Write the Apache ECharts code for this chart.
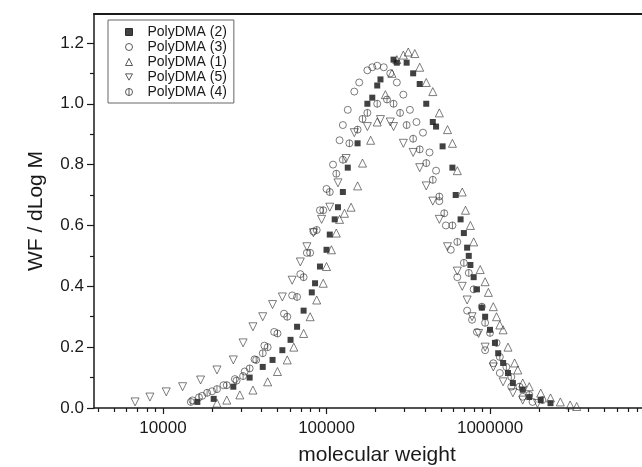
<!DOCTYPE html>
<html>
<head>
<meta charset="utf-8">
<script src="https://cdn.jsdelivr.net/npm/echarts@6/dist/echarts.min.js"></script>
<style>
html,body{margin:0;padding:0;background:#fff;}
#chart{width:642px;height:467px;}
</style>
</head>
<body>
<div id="chart"></div>
<script>
// ---- tick labels ----
const xMajorTicks = [10000, 100000, 1000000];
const xMinorTicks = [4000, 5000, 6000, 7000, 8000, 9000,
  20000, 30000, 40000, 50000, 60000, 70000, 80000, 90000,
  200000, 300000, 400000, 500000, 600000, 700000, 800000, 900000,
  2000000, 3000000, 4000000, 5000000, 6000000, 7000000, 8000000];
const yMajorTicks = [0, 0.2, 0.4, 0.6, 0.8, 1.0, 1.2];
const yMinorTicks = [0.1, 0.3, 0.5, 0.7, 0.9, 1.1];

// ---- series names (legend order) ----
const seriesNames = ['PolyDMA (2)', 'PolyDMA (3)', 'PolyDMA (1)', 'PolyDMA (5)', 'PolyDMA (4)'];

// ---- PolyDMA (2) : filled squares ----
const mw_2 = [16220, 20420, 26920, 33880, 40740, 46770, 53700, 60260, 66070, 72440, 81280, 85110, 91200, 100000, 104700, 112200, 117500, 125900, 134900, 154900, 177800, 190500, 204200, 213800, 257000, 269200, 309000, 338800, 371500, 407400, 446700, 467700, 512900, 588800, 616600, 660700, 691800, 724400, 741300, 758600, 794300, 831800, 891300, 933300, 1000000, 1072000, 1122000, 1202000, 1288000, 1380000, 1585000, 1738000, 2042000, 2344000];
const wf_2 = [0.02, 0.03, 0.07, 0.10, 0.135, 0.158, 0.19, 0.224, 0.267, 0.32, 0.38, 0.41, 0.465, 0.52, 0.57, 0.62, 0.66, 0.71, 0.79, 0.87, 1.0, 1.02, 1.06, 1.08, 1.145, 1.135, 1.135, 1.10, 1.065, 1.0, 0.94, 0.925, 0.86, 0.79, 0.70, 0.62, 0.575, 0.527, 0.50, 0.47, 0.43, 0.39, 0.33, 0.30, 0.257, 0.214, 0.18, 0.148, 0.115, 0.082, 0.06, 0.036, 0.026, 0.016];

// ---- PolyDMA (3) : open circles ----
const mw_3 = [15140, 17380, 19950, 23440, 27540, 31620, 36310, 41690, 47860, 54950, 61660, 69180, 75860, 83180, 91200, 100000, 109600, 120200, 125900, 134900, 147900, 158500, 177800, 190500, 204200, 223900, 245500, 269200, 295100, 323600, 354800, 389000, 426600, 467700, 489800, 537000, 575400, 631000, 724400, 776200, 831800, 933300, 1047000, 1148000, 1349000, 1585000, 1820000];
const wf_3 = [0.025, 0.04, 0.055, 0.075, 0.095, 0.12, 0.16, 0.205, 0.25, 0.31, 0.37, 0.44, 0.51, 0.58, 0.65, 0.72, 0.80, 0.88, 0.93, 0.98, 1.04, 1.07, 1.11, 1.12, 1.125, 1.12, 1.10, 1.07, 1.03, 0.98, 0.94, 0.905, 0.84, 0.78, 0.68, 0.60, 0.52, 0.43, 0.32, 0.29, 0.25, 0.19, 0.147, 0.115, 0.07, 0.037, 0.02];

// ---- PolyDMA (1) : open up-triangles ----
const mw_1 = [21380, 24550, 29510, 35480, 43650, 50120, 57540, 63100, 72440, 79430, 87100, 95500, 100000, 107200, 114800, 120200, 128800, 141300, 154900, 166000, 186200, 204200, 229100, 251200, 269200, 295100, 316200, 346700, 371500, 407400, 446700, 489800, 549500, 588800, 631000, 676100, 707900, 758600, 794300, 871000, 933300, 977200, 1047000, 1096000, 1148000, 1202000, 1288000, 1413000, 1479000, 1585000, 1738000, 2042000, 2344000, 2692000, 3090000, 3388000];
const wf_1 = [0.016, 0.026, 0.043, 0.059, 0.086, 0.12, 0.158, 0.20, 0.245, 0.30, 0.355, 0.41, 0.465, 0.52, 0.575, 0.62, 0.64, 0.66, 0.73, 0.805, 0.88, 0.94, 1.03, 1.10, 1.145, 1.16, 1.17, 1.165, 1.12, 1.07, 1.04, 0.97, 0.915, 0.87, 0.78, 0.71, 0.65, 0.60, 0.546, 0.455, 0.415, 0.38, 0.333, 0.30, 0.273, 0.257, 0.20, 0.148, 0.125, 0.082, 0.07, 0.049, 0.033, 0.02, 0.01, 0.005];

// ---- PolyDMA (5) : open down-triangles ----
const mw_5 = [6750, 8320, 10470, 13180, 16980, 21380, 26920, 30900, 35480, 40740, 46770, 53700, 61660, 69180, 75860, 83180, 93330, 104700, 117500, 131800, 147900, 177800, 213800, 245500, 257000, 295100, 338800, 371500, 407400, 446700, 489800, 549500, 631000, 676100, 724400, 776200, 851100, 933300, 1047000, 1202000, 1380000, 1585000, 1950000];
const wf_5 = [0.02, 0.036, 0.053, 0.07, 0.092, 0.125, 0.158, 0.214, 0.267, 0.30, 0.34, 0.365, 0.42, 0.48, 0.53, 0.576, 0.62, 0.66, 0.74, 0.82, 0.905, 0.925, 0.948, 0.94, 0.925, 0.87, 0.84, 0.79, 0.73, 0.68, 0.62, 0.53, 0.45, 0.40, 0.355, 0.30, 0.245, 0.20, 0.135, 0.086, 0.05, 0.026, 0.015];

// ---- PolyDMA (4) : crossed circles ----
const mw_4 = [14790, 16600, 18620, 21380, 24550, 28180, 30900, 33880, 37150, 40740, 43650, 50120, 57540, 66070, 72440, 79430, 87100, 95500, 104700, 114800, 125900, 138000, 154900, 166000, 177800, 204200, 234400, 257000, 281800, 309000, 338800, 371500, 407400, 446700, 489800, 524800, 588800, 631000, 691800, 741300, 794300, 891300, 933300, 1000000, 1096000, 1148000, 1259000, 1349000, 1514000, 1738000, 2089000];
const wf_4 = [0.02, 0.035, 0.05, 0.062, 0.075, 0.09, 0.105, 0.13, 0.158, 0.18, 0.20, 0.245, 0.30, 0.365, 0.43, 0.51, 0.585, 0.65, 0.71, 0.77, 0.816, 0.87, 0.915, 0.95, 0.97, 1.0, 1.014, 1.0, 0.97, 0.93, 0.885, 0.85, 0.805, 0.75, 0.695, 0.64, 0.60, 0.546, 0.477, 0.444, 0.39, 0.333, 0.28, 0.247, 0.214, 0.168, 0.135, 0.102, 0.07, 0.043, 0.026];

const zip = (xs, ys) => xs.map((x, i) => [x, ys[i]]);
const FONT = '"Liberation Sans", Arial, Helvetica, sans-serif';
const INK = '#1a1a1a';
const crossedCircle = 'path://M10,0 A10,10 0 1,1 10,20 A10,10 0 1,1 10,0 Z M10,0 L10,20';
const downTriangle = 'path://M0,0 L10,0 L5,9 Z';

const X_MIN = 3785, X_MAX = 8500000;
const Y_MIN = 0, Y_MAX = 1.295;

const openStyle = { color: 'rgba(255,255,255,0)', borderColor: '#333', borderWidth: 0.8 };

const chart = echarts.init(document.getElementById('chart'), null, { renderer: 'canvas' });
chart.setOption({
  animation: false,
  backgroundColor: '#fff',
  textStyle: { fontFamily: FONT },
  grid: { left: 94, right: 0, top: 14, bottom: 59, containLabel: false, outerBoundsMode: 'none' },
  legend: {
    data: seriesNames.map(n => ({ name: n, itemStyle: { borderWidth: 1 } })),
    orient: 'vertical',
    left: 108, top: 20,
    padding: [5, 7, 4, 17],
    itemWidth: 7, itemHeight: 7, itemGap: 1,
    symbolKeepAspect: true,
    borderColor: '#666', borderWidth: 1,
    textStyle: { fontFamily: FONT, fontSize: 14, color: INK, lineHeight: 14, padding: [0, 0, 0, 10] }
  },
  xAxis: [
    {
      type: 'log', min: X_MIN, max: X_MAX, position: 'bottom',
      name: 'molecular weight', nameLocation: 'middle', nameGap: 37,
      nameTextStyle: { fontFamily: FONT, fontSize: 21, color: INK, padding: [0, 0, 0, 18] },
      axisLine: { show: true, lineStyle: { color: INK, width: 1.5 } },
      axisTick: { show: true, length: 6, customValues: xMajorTicks, lineStyle: { color: INK, width: 1.2 } },
      axisLabel: { show: true, customValues: xMajorTicks, margin: 12, fontFamily: FONT, fontSize: 17, color: INK,
        formatter: v => String(Math.round(v)) },
      splitLine: { show: false }, minorTick: { show: false }
    },
    {
      type: 'log', min: X_MIN, max: X_MAX, position: 'bottom',
      axisLine: { show: false },
      axisTick: { show: true, length: 4, customValues: xMinorTicks, lineStyle: { color: INK, width: 1.2 } },
      axisLabel: { show: false }, splitLine: { show: false }
    },
    {
      type: 'log', min: X_MIN, max: X_MAX, position: 'top',
      axisLine: { show: true, lineStyle: { color: INK, width: 2 } },
      axisTick: { show: false }, axisLabel: { show: false }, splitLine: { show: false }
    }
  ],
  yAxis: [
    {
      type: 'value', min: Y_MIN, max: Y_MAX, position: 'left',
      name: 'WF / dLog M', nameLocation: 'middle', nameGap: 47, nameRotate: 90,
      nameTextStyle: { fontFamily: FONT, fontSize: 21, color: INK },
      axisLine: { show: true, lineStyle: { color: INK, width: 1.5 } },
      axisTick: { show: true, length: 7, customValues: yMajorTicks, lineStyle: { color: INK, width: 1.2 } },
      axisLabel: { show: true, customValues: yMajorTicks, margin: 10, fontFamily: FONT, fontSize: 17, color: INK,
        formatter: v => v.toFixed(1) },
      splitLine: { show: false }
    },
    {
      type: 'value', min: Y_MIN, max: Y_MAX, position: 'left',
      axisLine: { show: false },
      axisTick: { show: true, length: 4, customValues: yMinorTicks, lineStyle: { color: INK, width: 1.2 } },
      axisLabel: { show: false }, splitLine: { show: false }
    }
  ],
  series: [
    { name: seriesNames[0], type: 'scatter', data: zip(mw_2, wf_2), symbol: 'rect', symbolSize: 6,
      itemStyle: { color: '#111', borderColor: '#111', borderWidth: 0 } },
    { name: seriesNames[1], type: 'scatter', data: zip(mw_3, wf_3), symbol: 'circle', symbolSize: 7,
      itemStyle: openStyle },
    { name: seriesNames[2], type: 'scatter', data: zip(mw_1, wf_1), symbol: 'triangle', symbolSize: 8,
      itemStyle: openStyle },
    { name: seriesNames[3], type: 'scatter', data: zip(mw_5, wf_5), symbol: downTriangle, symbolSize: 8,
      itemStyle: openStyle },
    { name: seriesNames[4], type: 'scatter', data: zip(mw_4, wf_4), symbol: crossedCircle, symbolSize: 7,
      itemStyle: openStyle }
  ]
});
</script>
</body>
</html>
